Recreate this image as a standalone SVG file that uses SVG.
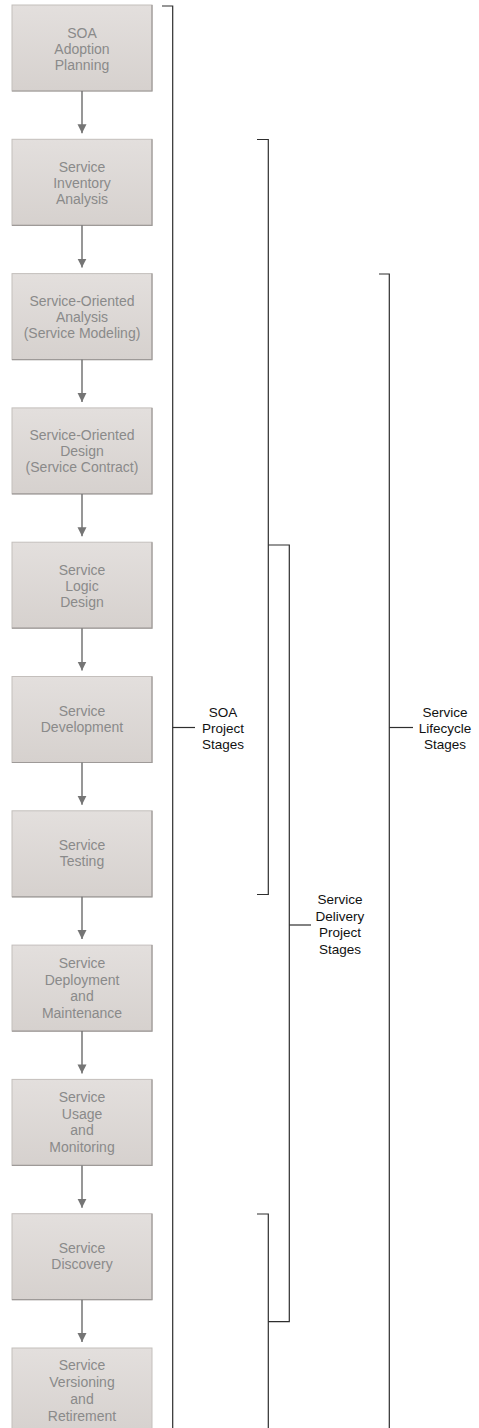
<svg xmlns="http://www.w3.org/2000/svg" width="479" height="1428" viewBox="0 0 479 1428">
<defs>
<linearGradient id="boxfill" x1="0" y1="0" x2="0" y2="1">
<stop offset="0" stop-color="#e3dfdd"/>
<stop offset="1" stop-color="#d6d1ce"/>
</linearGradient>
<marker id="arr" viewBox="0 0 10 10" refX="10" refY="5" markerWidth="9" markerHeight="10" markerUnits="userSpaceOnUse" orient="auto">
<path d="M0,0 L10,5 L0,10 Z" fill="#757575"/>
</marker>
</defs>
<style>
.box{fill:url(#boxfill);stroke:#c4bfbc;stroke-width:1}
.shade{stroke:#9e9a98;stroke-width:1.2;fill:none}
.bt{font-family:"Liberation Sans",Arial,sans-serif;font-size:14px;fill:#8a8a8a;text-anchor:middle}
.lt{font-family:"Liberation Sans",Arial,sans-serif;font-size:13.5px;fill:#111;text-anchor:middle}
.arrow{stroke:#757575;stroke-width:1.5;fill:none}
.br{stroke:#2e2e2e;stroke-width:1.2;fill:none}
</style>

<g id="node1"><rect class="box" x="12" y="5" width="140" height="86"/><path class="shade" d="M12,91 H152 V5"/>
<text class="bt" x="82" y="38">SOA</text><text class="bt" x="82" y="53.5">Adoption</text><text class="bt" x="82" y="69.5">Planning</text></g>

<g id="node2"><rect class="box" x="12" y="139.3" width="140" height="86"/><path class="shade" d="M12,225.3 H152 V139.3"/>
<text class="bt" x="82" y="171.8">Service</text><text class="bt" x="82" y="187.8">Inventory</text><text class="bt" x="82" y="203.8">Analysis</text></g>

<g id="node3"><rect class="box" x="12" y="273.6" width="140" height="86"/><path class="shade" d="M12,359.6 H152 V273.6"/>
<text class="bt" x="82" y="306.1">Service-Oriented</text><text class="bt" x="82" y="322.1">Analysis</text><text class="bt" x="82" y="338.1">(Service Modeling)</text></g>

<g id="node4"><rect class="box" x="12" y="407.9" width="140" height="86"/><path class="shade" d="M12,493.9 H152 V407.9"/>
<text class="bt" x="82" y="440.4">Service-Oriented</text><text class="bt" x="82" y="456.4">Design</text><text class="bt" x="82" y="472.4">(Service Contract)</text></g>

<g id="node5"><rect class="box" x="12" y="542.2" width="140" height="86"/><path class="shade" d="M12,628.2 H152 V542.2"/>
<text class="bt" x="82" y="574.7">Service</text><text class="bt" x="82" y="590.7">Logic</text><text class="bt" x="82" y="606.7">Design</text></g>

<g id="node6"><rect class="box" x="12" y="676.5" width="140" height="86"/><path class="shade" d="M12,762.5 H152 V676.5"/>
<text class="bt" x="82" y="716">Service</text><text class="bt" x="82" y="732">Development</text></g>

<g id="node7"><rect class="box" x="12" y="810.8" width="140" height="86"/><path class="shade" d="M12,896.8 H152 V810.8"/>
<text class="bt" x="82" y="850.3">Service</text><text class="bt" x="82" y="866.3">Testing</text></g>

<g id="node8"><rect class="box" x="12" y="945.1" width="140" height="86"/><path class="shade" d="M12,1031.1 H152 V945.1"/>
<text class="bt" x="82" y="968">Service</text><text class="bt" x="82" y="984.5">Deployment</text><text class="bt" x="82" y="1001">and</text><text class="bt" x="82" y="1017.5">Maintenance</text></g>

<g id="node9"><rect class="box" x="12" y="1079.4" width="140" height="86"/><path class="shade" d="M12,1165.4 H152 V1079.4"/>
<text class="bt" x="82" y="1102.3">Service</text><text class="bt" x="82" y="1118.8">Usage</text><text class="bt" x="82" y="1135.3">and</text><text class="bt" x="82" y="1151.8">Monitoring</text></g>

<g id="node10"><rect class="box" x="12" y="1213.7" width="140" height="86"/><path class="shade" d="M12,1299.7 H152 V1213.7"/>
<text class="bt" x="82" y="1253.2">Service</text><text class="bt" x="82" y="1269.2">Discovery</text></g>

<g id="node11"><rect class="box" x="12" y="1348" width="140" height="86"/>
<text class="bt" x="82" y="1370.3">Service</text><text class="bt" x="82" y="1387.3">Versioning</text><text class="bt" x="82" y="1404.3">and</text><text class="bt" x="82" y="1421.3">Retirement</text></g>

<g id="connectors">
<line class="arrow" x1="82" y1="91" x2="82" y2="133.3" marker-end="url(#arr)"/>
<line class="arrow" x1="82" y1="225.3" x2="82" y2="267.6" marker-end="url(#arr)"/>
<line class="arrow" x1="82" y1="359.6" x2="82" y2="401.9" marker-end="url(#arr)"/>
<line class="arrow" x1="82" y1="493.9" x2="82" y2="536.2" marker-end="url(#arr)"/>
<line class="arrow" x1="82" y1="628.2" x2="82" y2="670.5" marker-end="url(#arr)"/>
<line class="arrow" x1="82" y1="762.5" x2="82" y2="804.8" marker-end="url(#arr)"/>
<line class="arrow" x1="82" y1="896.8" x2="82" y2="939.1" marker-end="url(#arr)"/>
<line class="arrow" x1="82" y1="1031.1" x2="82" y2="1073.4" marker-end="url(#arr)"/>
<line class="arrow" x1="82" y1="1165.4" x2="82" y2="1207.7" marker-end="url(#arr)"/>
<line class="arrow" x1="82" y1="1299.7" x2="82" y2="1342" marker-end="url(#arr)"/>
</g>

<g id="bracket-soa">
<path class="br" d="M162,6 H172.7 V1428"/>
<line class="br" x1="172.7" y1="727.5" x2="195" y2="727.5"/>
<text class="lt" x="223" y="717">SOA</text><text class="lt" x="223" y="733">Project</text><text class="lt" x="223" y="749">Stages</text>
</g>

<g id="bracket-inventory">
<path class="br" d="M257,139.5 H268.3 V894.5 H257"/>
</g>

<g id="bracket-delivery">
<path class="br" d="M268.3,545 H289.3 V1321.7 H268.3"/>
<line class="br" x1="289.3" y1="925" x2="311" y2="925"/>
<text class="lt" x="340" y="904">Service</text><text class="lt" x="340" y="920.5">Delivery</text><text class="lt" x="340" y="937">Project</text><text class="lt" x="340" y="953.5">Stages</text>
</g>

<g id="bracket-discovery">
<path class="br" d="M257,1214 H268.3 V1428"/>
</g>

<g id="bracket-lifecycle">
<path class="br" d="M379,274 H389.3 V1428"/>
<line class="br" x1="389.3" y1="727.5" x2="413" y2="727.5"/>
<text class="lt" x="445" y="717">Service</text><text class="lt" x="445" y="733">Lifecycle</text><text class="lt" x="445" y="749">Stages</text>
</g>
</svg>
